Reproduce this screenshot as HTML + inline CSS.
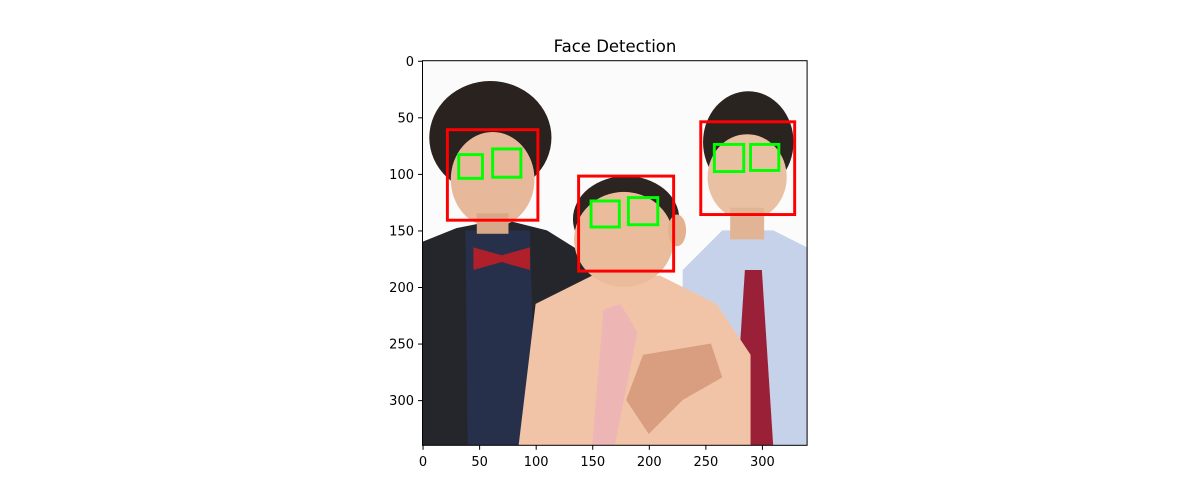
<!DOCTYPE html>
<html><head><meta charset="utf-8"><style>
html,body{margin:0;padding:0;background:#fff;}
svg{display:block;font-family:"DejaVu Sans","Liberation Sans",sans-serif;}
</style></head><body>
<svg id="chart" width="1200" height="500" viewBox="0 0 1200 500">
<defs><clipPath id="clip"><rect x="0" y="0" width="340" height="340"/></clipPath></defs>
<text x="615" y="52" text-anchor="middle" font-size="16.5" fill="#000">Face Detection</text>
<g id="img" transform="translate(422.5,60.7) scale(1.1312)" clip-path="url(#clip)">
  <rect x="0" y="0" width="340" height="340" fill="#fbfbfb"/>
  <!-- left person -->
  <polygon points="0,160 30,148 70,140 110,150 150,175 160,200 160,340 0,340" fill="#25262c"/>
  <polygon points="38,150 95,150 100,340 40,340" fill="#27304a"/>
  <polygon points="45,165 70,172 95,165 95,185 70,178 45,185" fill="#b0202a"/>
  <ellipse cx="60" cy="68" rx="54" ry="50" fill="#2a221f"/>
  <ellipse cx="62" cy="105" rx="37" ry="42" fill="#e7b89a"/>
  <rect x="48" y="135" width="28" height="18" fill="#d9a888"/>
  <!-- right person -->
  <polygon points="230,185 265,150 310,150 340,165 340,340 230,340" fill="#c6d2ea"/>
  <polygon points="285,185 300,185 310,340 275,340" fill="#9a2038"/>
  <ellipse cx="288" cy="72" rx="40" ry="45" fill="#2a2420"/>
  <ellipse cx="287" cy="103" rx="35" ry="38" fill="#eac0a2"/>
  <rect x="272" y="130" width="30" height="28" fill="#e2b496"/>
  <!-- middle person -->
  <polygon points="100,215 150,190 210,190 260,215 290,260 290,340 85,340" fill="#f1c4a8"/>
  <polygon points="160,220 175,215 190,240 170,340 150,340" fill="#eeb5b5"/>
  <polygon points="195,260 255,250 265,280 230,300 200,330 180,300" fill="#d99e80"/>
  <ellipse cx="180" cy="140" rx="47" ry="38" fill="#2c2420"/>
  <ellipse cx="178" cy="158" rx="44" ry="42" fill="#ebbc9c"/>
  <ellipse cx="225" cy="150" rx="8" ry="14" fill="#e3b090"/>
</g>
<g id="boxes" transform="translate(422.5,60.7) scale(1.1312)"></g>
<rect x="422.5" y="60.7" width="384.6" height="384.6" fill="none" stroke="#000" stroke-width="1"/>
<g id="xticks"></g><g id="yticks"></g>
<script>
const faceX = [22, 138, 246];
const faceY = [61, 102, 54];
const faceW = [80, 84, 83];
const faceH = [80, 84, 82];
const eyeX = [32, 62, 149, 182, 258, 290];
const eyeY = [83, 78, 124, 121, 74, 74];
const eyeW = [21, 25, 25, 26, 26, 25];
const eyeH = [21, 25, 23, 24, 24, 23];
const xTicks = [0, 50, 100, 150, 200, 250, 300];
const yTicks = [0, 50, 100, 150, 200, 250, 300];
const NS = "http://www.w3.org/2000/svg";
const X0 = 422.5 + 0.5 * 1.1312, Y0 = 60.7 + 0.5 * 1.1312, S = 1.1312;
const sx = v => X0 + v * S, sy = v => Y0 + v * S;
const boxes = document.getElementById('boxes');
function addBox(x, y, w, h, color, name) {
  const r = document.createElementNS(NS, 'rect');
  r.setAttribute('x', x); r.setAttribute('y', y);
  r.setAttribute('width', w); r.setAttribute('height', h);
  r.setAttribute('fill', 'none'); r.setAttribute('stroke', color);
  r.setAttribute('stroke-width', 2.6);
  
  
  boxes.appendChild(r);
}
faceX.forEach((x, i) => addBox(x, faceY[i], faceW[i], faceH[i], '#ff0000', 'face-box'));
eyeX.forEach((x, i) => addBox(x, eyeY[i], eyeW[i], eyeH[i], '#00ff00', 'eye-box'));
const xt = document.getElementById('xticks');
xTicks.forEach(v => {
  const l = document.createElementNS(NS, 'line');
  l.setAttribute('x1', sx(v)); l.setAttribute('x2', sx(v));
  l.setAttribute('y1', 445.3); l.setAttribute('y2', 449.8);
  l.setAttribute('stroke', '#000');
  
  
  xt.appendChild(l);
  const t = document.createElementNS(NS, 'text');
  t.setAttribute('x', sx(v)); t.setAttribute('y', 466);
  t.setAttribute('text-anchor', 'middle'); t.setAttribute('font-size', '13');
  t.textContent = v;
  
  
  xt.appendChild(t);
});
const yt = document.getElementById('yticks');
yTicks.forEach(v => {
  const l = document.createElementNS(NS, 'line');
  l.setAttribute('x1', 418); l.setAttribute('x2', 422.5);
  l.setAttribute('y1', sy(v)); l.setAttribute('y2', sy(v));
  l.setAttribute('stroke', '#000');
  
  
  yt.appendChild(l);
  const t = document.createElementNS(NS, 'text');
  t.setAttribute('x', 414); t.setAttribute('y', sy(v) + 4.5);
  t.setAttribute('text-anchor', 'end'); t.setAttribute('font-size', '13');
  t.textContent = v;
  
  
  yt.appendChild(t);
});
</script>
</svg>
</body></html>
